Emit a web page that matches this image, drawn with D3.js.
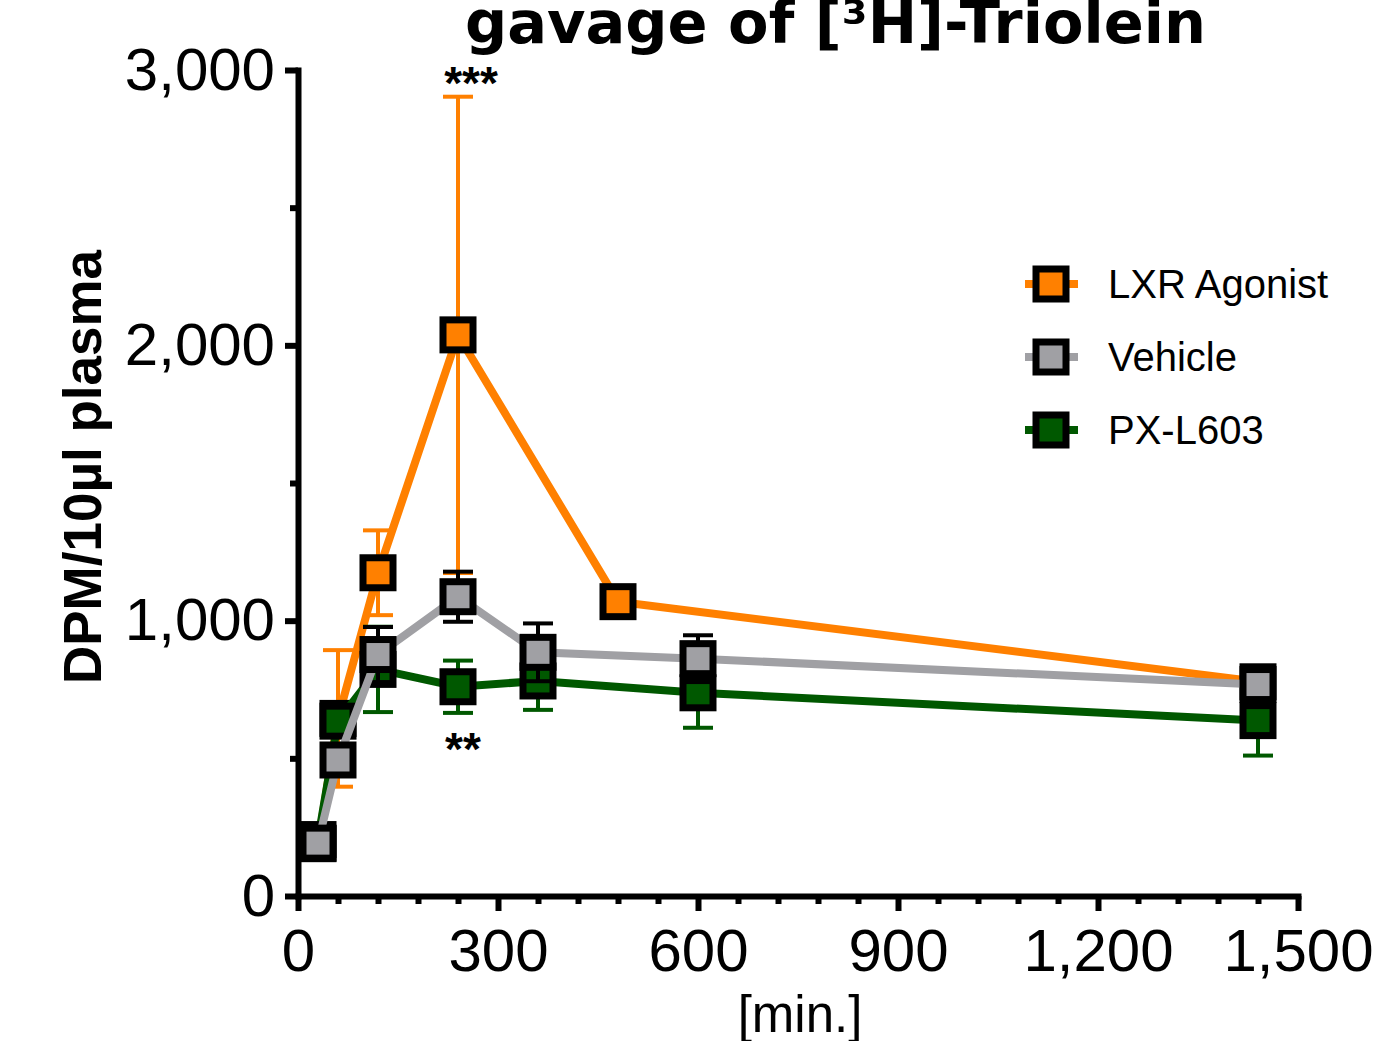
<!DOCTYPE html>
<html>
<head>
<meta charset="utf-8">
<script src="https://cdn.jsdelivr.net/npm/d3@7"></script>
<style>
  body { margin: 0; background: #fff; }
</style>
</head>
<body>
<div id="chart"></div>
<script>
// time points [min.] and plasma counts
const lxrTime = [30, 60, 120, 240, 480, 1440];
const lxrMean = [190, 645, 1174, 2038, 1069, 778];
const lxrErr = [40, 248, 154, 865, 50, 40];

const vehTime = [30, 60, 120, 240, 360, 600, 1440];
const vehMean = [192, 494, 877, 1087, 885, 862, 768];
const vehErr = [40, 50, 100, 91, 105, 85, 40];

const pxTime = [30, 60, 120, 240, 360, 600, 1440];
const pxMean = [205, 635, 823, 760, 781, 738, 637];
const pxErr = [50, 55, 155, 95, 105, 127, 127];

const xTicks = [0, 300, 600, 900, 1200, 1500];
const xMinor = d3.range(60, 1500, 60).filter(d => d % 300 != 0);
const yTicks = [0, 1000, 2000, 3000];
const yMinor = [500, 1500, 2500];

const legendNames = ["LXR Agonist", "Vehicle", "PX-L603"];

loadChart = () => {
  const width = 1387, height = 1041;
  const plot = { left: 298, right: 1298, top: 70, bottom: 896 };

  let svg = d3.select("#chart")
    .append("svg")
    .attr("width", width)
    .attr("height", height)
    .style("font-family", "'Liberation Sans', Arial, sans-serif");

  let x = d3.scaleLinear().domain([0, 1500]).range([plot.left, plot.right]);
  let y = d3.scaleLinear().domain([0, 3000]).range([plot.bottom, plot.top]);

  // series, in drawing order (gray ends up on top)
  let series = [
    { name: "LXR Agonist", t: lxrTime, m: lxrMean, e: lxrErr, color: "#ff8000", errColor: "#ff8000" },
    { name: "PX-L603", t: pxTime, m: pxMean, e: pxErr, color: "#005800", errColor: "#005800" },
    { name: "Vehicle", t: vehTime, m: vehMean, e: vehErr, color: "#a0a0a4", errColor: "#000000" },
  ];

  // title (first line is cut off at the top of the picture)
  svg.append("text")
    .attr("x", 465)
    .attr("y", 43)
    .attr("font-family", "'DejaVu Sans', Verdana, sans-serif")
    .attr("font-weight", "bold")
    .attr("font-size", "59px")
    .text("gavage of [\u00b3H]-Triolein");

  // y axis
  let yAxis = svg.append("g")
    .attr("transform", "translate(" + plot.left + ",0)")
    .call(d3.axisLeft(y).tickValues(yTicks).tickSize(13).tickSizeOuter(0).tickPadding(10).tickFormat(d3.format(",")));
  yAxis.select(".domain").attr("stroke-width", 6).attr("stroke-linecap", "square");
  yAxis.selectAll(".tick line").attr("stroke-width", 6);
  yAxis.selectAll("text").attr("font-size", "60px").attr("fill", "#000");

  svg.append("g")
    .attr("transform", "translate(" + plot.left + ",0)")
    .call(d3.axisLeft(y).tickValues(yMinor).tickSize(8).tickFormat(""))
    .call(g => g.select(".domain").remove())
    .selectAll(".tick line").attr("stroke-width", 6);

  // x axis
  let xAxis = svg.append("g")
    .attr("transform", "translate(0," + plot.bottom + ")")
    .call(d3.axisBottom(x).tickValues(xTicks).tickSize(15).tickSizeOuter(0).tickPadding(17).tickFormat(d3.format(",")));
  xAxis.select(".domain").attr("stroke-width", 6).attr("stroke-linecap", "square");
  xAxis.selectAll(".tick line").attr("stroke-width", 6);
  xAxis.selectAll("text").attr("font-size", "60px").attr("fill", "#000");

  svg.append("g")
    .attr("transform", "translate(0," + plot.bottom + ")")
    .call(d3.axisBottom(x).tickValues(xMinor).tickSize(8).tickFormat(""))
    .call(g => g.select(".domain").remove())
    .selectAll(".tick line").attr("stroke-width", 6);

  // axis titles
  svg.append("text")
    .attr("transform", "translate(101,467) rotate(-90)")
    .attr("text-anchor", "middle")
    .attr("font-weight", "bold")
    .attr("font-size", "53px")
    .text("DPM/10\u00b5l plasma");

  svg.append("text")
    .attr("x", 800)
    .attr("y", 1032)
    .attr("text-anchor", "middle")
    .attr("font-size", "51px")
    .text("[min.]");

  let line = d3.line().x(d => x(d[0])).y(d => y(d[1]));
  let capW = 15;

  series.forEach(s => {
    let pts = s.t.map((t, i) => [t, s.m[i], s.e[i]]);
    let g = svg.append("g");

    // error bars
    let eb = g.append("g")
      .attr("stroke", s.errColor)
      .attr("stroke-width", 4);
    eb.selectAll(".stem").data(pts).join("line")
      .attr("x1", d => x(d[0])).attr("x2", d => x(d[0]))
      .attr("y1", d => y(d[1] - d[2])).attr("y2", d => y(d[1] + d[2]));
    eb.selectAll(".capTop").data(pts).join("line")
      .attr("x1", d => x(d[0]) - capW).attr("x2", d => x(d[0]) + capW)
      .attr("y1", d => y(d[1] + d[2])).attr("y2", d => y(d[1] + d[2]));
    eb.selectAll(".capBot").data(pts).join("line")
      .attr("x1", d => x(d[0]) - capW).attr("x2", d => x(d[0]) + capW)
      .attr("y1", d => y(d[1] - d[2])).attr("y2", d => y(d[1] - d[2]));

    g.append("path")
      .datum(pts)
      .attr("d", line)
      .attr("fill", "none")
      .attr("stroke", s.color)
      .attr("stroke-width", 8);

    g.selectAll("rect").data(pts).join("rect")
      .attr("x", d => x(d[0]) - 15)
      .attr("y", d => y(d[1]) - 15)
      .attr("width", 30)
      .attr("height", 30)
      .attr("fill", s.color)
      .attr("stroke", "#000")
      .attr("stroke-width", 7);
  });

  // significance marks at 240 min
  svg.append("text")
    .attr("x", x(240) + 13)
    .attr("y", y(lxrMean[3] + lxrErr[3]) + 2)
    .attr("text-anchor", "middle")
    .attr("font-weight", "bold")
    .attr("font-size", "46px")
    .text("***");

  svg.append("text")
    .attr("x", x(240) + 5)
    .attr("y", y(pxMean[3] - pxErr[3]) + 52)
    .attr("text-anchor", "middle")
    .attr("font-weight", "bold")
    .attr("font-size", "46px")
    .text("**");

  // legend
  let legend = svg.append("g").attr("transform", "translate(1051,284)");
  legendNames.forEach((name, i) => {
    let s = series.find(d => d.name == name);
    let row = legend.append("g").attr("transform", "translate(0," + i * 73 + ")");
    row.append("line")
      .attr("x1", -26).attr("x2", 27)
      .attr("stroke", s.color)
      .attr("stroke-width", 8);
    row.append("rect")
      .attr("x", -15).attr("y", -15)
      .attr("width", 30).attr("height", 30)
      .attr("fill", s.color)
      .attr("stroke", "#000")
      .attr("stroke-width", 7);
    row.append("text")
      .attr("x", 57)
      .attr("y", 14)
      .attr("font-size", "40px")
      .text(name);
  });
};

window.onload = () => {
  loadChart();
};
</script>
</body>
</html>
